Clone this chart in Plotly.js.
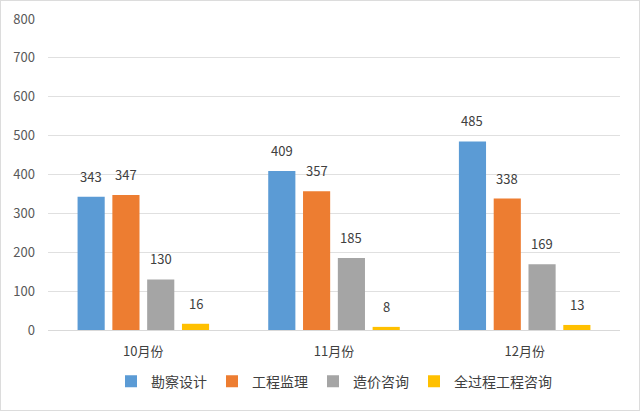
<!DOCTYPE html>
<html>
<head>
<meta charset="utf-8">
<script src="https://cdn.plot.ly/plotly-3.0.1.min.js"></script>
<style>
  html, body { margin: 0; padding: 0; background: #fff; }
  #chart { width: 640px; height: 411px; box-sizing: border-box; border: 1px solid #dcdcdc; }
</style>
</head>
<body>
<div id="chart"></div>
<script>
var months = ['10月份', '11月份', '12月份'];
var seriesNames = ['勘察设计', '工程监理', '造价咨询', '全过程工程咨询'];
var kancha = [343, 409, 485];
var jianli = [347, 357, 338];
var zaojia = [130, 185, 169];
var quanguocheng = [16, 8, 13];
var colors = ['#5b9bd5', '#ed7d31', '#a5a5a5', '#ffc000'];

var allValues = [kancha, jianli, zaojia, quanguocheng];
var font = "'Noto Sans CJK SC', 'Liberation Sans', sans-serif";
var bargap = 0.27;

var data = allValues.map(function (vals, j) {
  return {
    type: 'bar',
    name: seriesNames[j],
    x: months,
    y: vals,
    marker: { color: colors[j] },
    hoverinfo: 'y'
  };
});

// value labels sit a bit higher above the bars than plotly's own outside text
var slot = (1 - bargap) / allValues.length;
var annotations = [];
allValues.forEach(function (vals, j) {
  vals.forEach(function (v, i) {
    annotations.push({
      x: i + (j - 1.5) * slot,
      y: v,
      xref: 'x',
      yref: 'y',
      text: String(v),
      showarrow: false,
      yanchor: 'bottom',
      yshift: 9,
      font: { family: font, size: 13, color: '#404040' }
    });
  });
});

var layout = {
  width: 638,
  height: 409,
  margin: { l: 47, r: 19, t: 18, b: 78 },
  paper_bgcolor: '#fff',
  plot_bgcolor: '#fff',
  barmode: 'group',
  bargap: bargap,
  bargroupgap: 0.22,
  font: { family: font, size: 13, color: '#595959' },
  xaxis: {
    type: 'category',
    showline: true,
    linecolor: '#d9d9d9',
    linewidth: 1,
    ticks: '',
    tickfont: { family: font, size: 13, color: '#404040' },
    ticklabelstandoff: 9
  },
  yaxis: {
    range: [0, 800],
    dtick: 100,
    showgrid: true,
    gridcolor: '#e0e0e0',
    zeroline: false,
    showline: false,
    ticks: '',
    tickfont: { family: font, size: 13, color: '#595959' },
    ticklabelstandoff: 12
  },
  showlegend: true,
  legend: {
    orientation: 'h',
    x: 0.5,
    xanchor: 'center',
    y: -0.166,
    yanchor: 'middle',
    font: { family: font, size: 14, color: '#404040' },
    itemwidth: 30,
    tracegroupgap: 0
  },
  annotations: annotations
};

Plotly.newPlot('chart', data, layout, { displayModeBar: false, staticPlot: true });
</script>
</body>
</html>
